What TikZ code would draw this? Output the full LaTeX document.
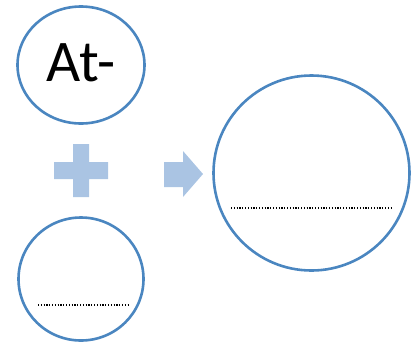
\documentclass[tikz,border=0pt]{standalone}
\usepackage{fontspec}
\setmainfont{Carlito}
\usetikzlibrary{shapes.geometric}
\definecolor{ringblue}{HTML}{4A86C0}
\definecolor{paleblue}{HTML}{AAC4E3}
\begin{document}
\begin{tikzpicture}[x=1pt, y=-1pt,
  every node/.style={ellipse, draw=ringblue, line width=2.6pt, inner sep=0pt},
  dots/.style={black, line width=1.2pt, dash pattern=on 1.2pt off 1.6pt}]
\useasboundingbox (0,0) rectangle (414,354);

\node (at) at (81,65) [minimum width=127pt, minimum height=117pt, font=\fontsize{59}{59}\selectfont, text depth=5pt] {At-};
\node (b) at (81,279) [minimum width=125pt, minimum height=123pt] {};
\node (ab) at (311.5,173) [minimum width=196pt, minimum height=195pt] {};

% plus and arrow
\fill[paleblue] (54,162) rectangle (108,179) (73,144) rectangle (89,197);
\fill[paleblue] (164,162) -- (183,162) -- (183,151) -- (203,174) -- (183,197) -- (183,187) -- (164,187) -- cycle;

\draw[dots] (38,305) -- (129,305);
\draw[dots] (231,208) -- (393,208);

\end{tikzpicture}
\end{document}
